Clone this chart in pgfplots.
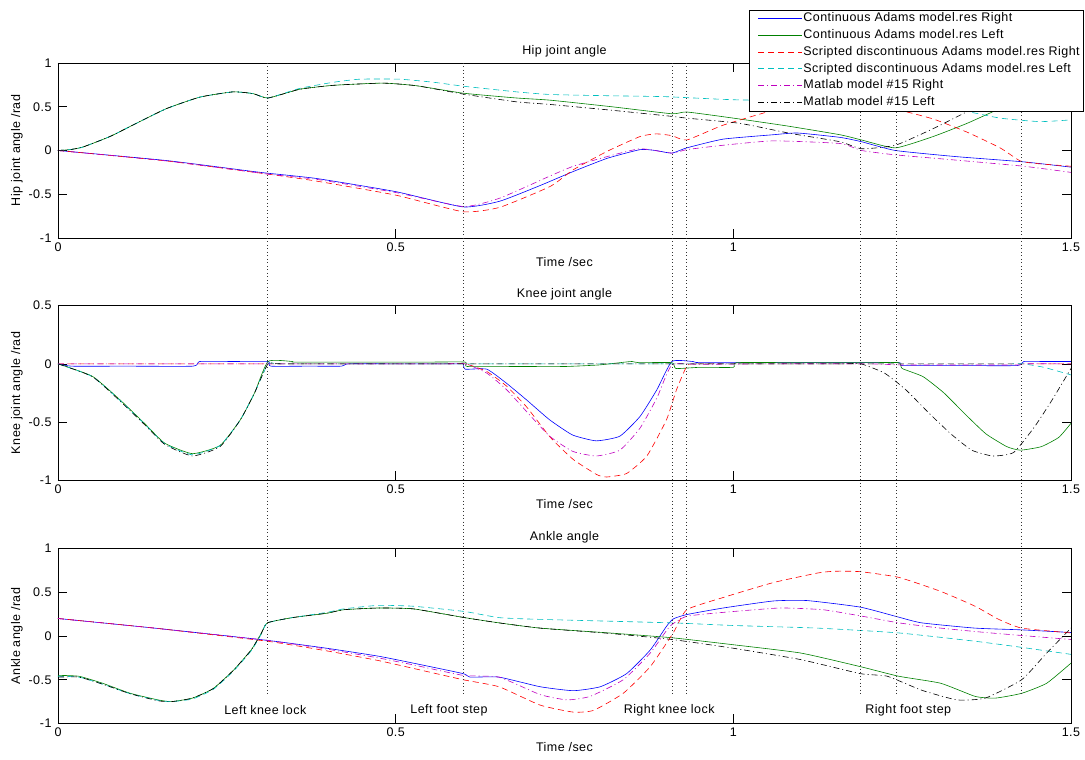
\documentclass[border=0pt]{standalone}
\usepackage{fontspec}
\setmainfont{Liberation Sans}[LetterSpace=3.5]
\usepackage{pgfplots}
\pgfplotsset{compat=1.18}
\newcommand{\myfont}{\fontsize{12.5}{14.5}\selectfont}
\definecolor{mblue}{rgb}{0,0,1}
\definecolor{mgreen}{rgb}{0,0.5,0}
\definecolor{mred}{rgb}{1,0,0}
\definecolor{mcyan}{rgb}{0,0.75,0.75}
\definecolor{mmag}{rgb}{0.75,0,0.75}
\tikzset{evline/.style={black!80, dash pattern=on 1pt off 2.5pt, line width=0.6pt}}
\pgfplotsset{
  sB/.style={color=mblue, solid, line width=0.6pt},
  sG/.style={color=mgreen, solid, line width=0.6pt},
  sR/.style={color=mred, dash pattern=on 6pt off 4pt, line width=0.6pt},
  sC/.style={color=mcyan, dash pattern=on 6pt off 4pt, line width=0.6pt},
  sM/.style={color=mmag, dash pattern=on 6pt off 3pt on 1pt off 3pt, line width=0.6pt},
  sK/.style={color=black, dash pattern=on 6pt off 3pt on 1pt off 3pt, line width=0.6pt},
  myaxis/.style={
    scale only axis, width=1013pt, height=175pt,
    xmin=0, xmax=1.5, xtick={0,0.5,1,1.5},
    tick align=inside, major tick length=9pt,
    tick style={black, line width=0.6pt},
    axis line style={black, line width=0.6pt},
    every tick label/.append style={font=\myfont},
    xticklabel style={yshift=-1pt},
    yticklabel style={xshift=-3pt},
    /pgf/number format/assume math mode=true,
    xlabel={Time /sec},
    xlabel style={at={(axis description cs:0.5,-0.135)}, anchor=center, font=\myfont},
    ylabel style={at={(axis description cs:-0.0405,0.5)}, anchor=center, font=\myfont},
    title style={at={(axis description cs:0.5,1.03)}, anchor=center, font=\myfont},
    every axis plot/.append style={line join=round, mark=none, smooth, tension=0.3},
  },
  legend image code/.code={\path (0pt,0pt); \draw[#1, sharp plot] (6pt,0pt) -- (50pt,0pt);},
}
\begin{document}
\begin{tikzpicture}
\useasboundingbox (0,0) rectangle (1085pt,760pt);
% ---------------- Ankle ----------------
\begin{axis}[myaxis, at={(58pt,36.5pt)}, anchor=south west,
  ymin=-1, ymax=1, ytick={-1,-0.5,0,0.5,1},
  title={Ankle angle}, ylabel={Ankle angle /rad}]
\addplot[sB] coordinates {(0,0.2) (0.143,0.09) (0.31,-0.05) (0.398,-0.14) (0.474,-0.23) (0.526,-0.31) (0.6,-0.43) (0.61,-0.47) (0.653,-0.47) (0.714,-0.58) (0.763,-0.625) (0.803,-0.58) (0.842,-0.43) (0.877,-0.16) (0.901,0.11) (0.911,0.195) (0.931,0.245) (0.985,0.32) (1.059,0.40) (1.109,0.405) (1.188,0.33) (1.245,0.215) (1.279,0.15) (1.358,0.09) (1.427,0.07) (1.5,0.04)};
\addplot[sG] coordinates {(0,-0.45) (0.031,-0.46) (0.066,-0.54) (0.107,-0.655) (0.148,-0.73) (0.168,-0.75) (0.199,-0.71) (0.230,-0.60) (0.260,-0.39) (0.286,-0.16) (0.301,0.03) (0.31,0.15) (0.347,0.21) (0.398,0.26) (0.423,0.30) (0.474,0.32) (0.526,0.31) (0.602,0.21) (0.653,0.15) (0.714,0.09) (0.816,0.035) (0.909,-0.02) (1.0,-0.10) (1.1,-0.195) (1.188,-0.35) (1.245,-0.46) (1.307,-0.54) (1.358,-0.69) (1.388,-0.71) (1.427,-0.655) (1.464,-0.54) (1.5,-0.31)};
\addplot[sR] coordinates {(0,0.2) (0.143,0.09) (0.31,-0.06) (0.398,-0.17) (0.474,-0.28) (0.526,-0.37) (0.6,-0.50) (0.653,-0.58) (0.714,-0.79) (0.763,-0.87) (0.793,-0.85) (0.837,-0.655) (0.877,-0.35) (0.911,0.035) (0.931,0.30) (0.985,0.44) (1.059,0.61) (1.125,0.72) (1.15,0.74) (1.188,0.735) (1.245,0.67) (1.307,0.51) (1.358,0.34) (1.393,0.19) (1.427,0.09) (1.5,0.035)};
\addplot[sC] coordinates {(0,-0.46) (0.031,-0.47) (0.066,-0.55) (0.107,-0.66) (0.148,-0.735) (0.168,-0.75) (0.199,-0.72) (0.230,-0.61) (0.260,-0.40) (0.286,-0.17) (0.301,0.02) (0.31,0.15) (0.347,0.21) (0.398,0.27) (0.423,0.31) (0.474,0.35) (0.526,0.34) (0.602,0.28) (0.653,0.21) (0.714,0.19) (0.909,0.15) (1.0,0.12) (1.125,0.09) (1.245,0.035) (1.358,-0.06) (1.427,-0.13) (1.5,-0.21)};
\addplot[sM] coordinates {(0,0.2) (0.143,0.09) (0.31,-0.05) (0.398,-0.15) (0.474,-0.25) (0.526,-0.33) (0.6,-0.45) (0.653,-0.47) (0.714,-0.67) (0.754,-0.73) (0.788,-0.69) (0.837,-0.50) (0.877,-0.195) (0.906,0.11) (0.931,0.225) (0.985,0.27) (1.069,0.32) (1.133,0.30) (1.188,0.23) (1.245,0.15) (1.307,0.09) (1.381,0.035) (1.5,-0.04)};
\addplot[sK] coordinates {(0,-0.47) (0.031,-0.47) (0.066,-0.55) (0.107,-0.66) (0.148,-0.74) (0.168,-0.75) (0.199,-0.71) (0.230,-0.60) (0.260,-0.39) (0.286,-0.16) (0.301,0.03) (0.31,0.15) (0.347,0.21) (0.398,0.26) (0.423,0.30) (0.474,0.32) (0.526,0.31) (0.602,0.21) (0.653,0.15) (0.714,0.09) (0.816,0.03) (0.909,-0.04) (1.0,-0.14) (1.1,-0.27) (1.188,-0.43) (1.228,-0.46) (1.279,-0.62) (1.331,-0.73) (1.373,-0.71) (1.427,-0.50) (1.464,-0.195) (1.5,0.09)};
\node[font=\myfont] at (axis cs:0.307,-0.85) {Left knee lock};
\node[font=\myfont] at (axis cs:0.579,-0.85) {Left foot step};
\node[font=\myfont] at (axis cs:0.905,-0.85) {Right knee lock};
\node[font=\myfont] at (axis cs:1.259,-0.85) {Right foot step};
\end{axis}
% ---------------- Knee ----------------
\begin{axis}[myaxis, at={(58pt,279.5pt)}, anchor=south west,
  ymin=-1, ymax=0.5, ytick={-1,-0.5,0,0.5},
  title={Knee joint angle}, ylabel={Knee joint angle /rad}]
\addplot[sB] coordinates {(0,0) (0.02,-0.02) (0.1,-0.02) (0.2,-0.02) (0.21,0.02) (0.26,0.02) (0.311,0.02) (0.315,-0.02) (0.37,-0.02) (0.42,-0.02) (0.43,0.0) (0.5,0.0) (0.59,0.0) (0.6,0.0) (0.603,-0.046) (0.635,-0.046) (0.664,-0.166) (0.694,-0.31) (0.728,-0.48) (0.762,-0.61) (0.797,-0.66) (0.832,-0.62) (0.862,-0.45) (0.887,-0.22) (0.909,0.02) (0.94,0.02) (0.95,0.01) (1.05,0.01) (1.15,0.01) (1.245,0.01) (1.25,-0.015) (1.33,-0.015) (1.42,-0.015) (1.43,0.02) (1.46,0.02) (1.5,0.02)};
\addplot[sG] coordinates {(0,0) (0.051,-0.107) (0.092,-0.31) (0.128,-0.51) (0.158,-0.68) (0.199,-0.77) (0.240,-0.70) (0.270,-0.48) (0.291,-0.25) (0.311,0.02) (0.347,0.02) (0.35,0.015) (0.45,0.015) (0.55,0.015) (0.603,0.015) (0.606,-0.023) (0.68,-0.023) (0.75,-0.023) (0.8,-0.01) (0.84,0.015) (0.85,0.02) (0.86,0.01) (0.909,0.01) (0.915,-0.04) (0.95,-0.03) (1.0,-0.03) (1.005,0.01) (1.1,0.01) (1.2,0.01) (1.245,0.01) (1.25,-0.04) (1.281,-0.11) (1.312,-0.25) (1.343,-0.43) (1.374,-0.60) (1.405,-0.71) (1.425,-0.74) (1.456,-0.71) (1.482,-0.63) (1.5,-0.51)};
\addplot[sR] coordinates {(0,0) (0.2,0) (0.4,0) (0.57,0) (0.603,0) (0.635,-0.066) (0.664,-0.19) (0.694,-0.37) (0.729,-0.63) (0.763,-0.82) (0.798,-0.95) (0.8125,-0.97) (0.842,-0.94) (0.872,-0.79) (0.901,-0.48) (0.916,-0.22) (0.931,-0.02) (0.94,0) (1.0,0) (1.2,0) (1.4,0) (1.5,0)};
\addplot[sC] coordinates {(0,0) (0.051,-0.11) (0.092,-0.315) (0.128,-0.515) (0.158,-0.685) (0.199,-0.78) (0.240,-0.70) (0.270,-0.48) (0.291,-0.25) (0.311,0) (0.33,0) (0.5,0) (0.8,0) (1.1,0) (1.35,0) (1.41,0) (1.429,0) (1.46,-0.03) (1.5,-0.095)};
\addplot[sM] coordinates {(0,0) (0.2,0) (0.4,0) (0.57,0) (0.603,0) (0.635,-0.08) (0.664,-0.22) (0.694,-0.41) (0.728,-0.62) (0.762,-0.75) (0.797,-0.79) (0.832,-0.74) (0.862,-0.55) (0.887,-0.29) (0.909,-0.01) (0.95,-0.005) (1.05,0) (1.2,0) (1.25,-0.01) (1.33,-0.01) (1.42,-0.01) (1.43,0) (1.5,0)};
\addplot[sK] coordinates {(0,0) (0.051,-0.11) (0.092,-0.32) (0.128,-0.52) (0.158,-0.69) (0.199,-0.79) (0.240,-0.71) (0.270,-0.48) (0.291,-0.25) (0.311,0) (0.33,0) (0.5,0) (0.8,0) (1.05,0) (1.16,0) (1.189,0) (1.224,-0.08) (1.255,-0.22) (1.291,-0.43) (1.322,-0.60) (1.353,-0.74) (1.384,-0.79) (1.415,-0.76) (1.446,-0.54) (1.472,-0.31) (1.5,-0.04)};
\end{axis}
% ---------------- Hip ----------------
\begin{axis}[myaxis, at={(58pt,522pt)}, anchor=south west,
  ymin=-1, ymax=1, ytick={-1,-0.5,0,0.5,1}, clip=false,
  title={Hip joint angle}, ylabel={Hip joint angle /rad},
  legend style={at={(rel axis cs:1.0128,1.305)}, anchor=north east,
    draw=black, line width=0.6pt, fill=white, font=\myfont,
    legend cell align=left, inner xsep=3pt, inner ysep=2pt, row sep=3.2pt,
    nodes={inner sep=1pt, text height=9pt, text depth=2.5pt}}]
\addplot[sB] coordinates {(0,0) (0.161,-0.115) (0.284,-0.235) (0.311,-0.26) (0.383,-0.32) (0.5,-0.47) (0.6,-0.645) (0.654,-0.58) (0.714,-0.40) (0.763,-0.24) (0.813,-0.09) (0.862,0.01) (0.885,0.0) (0.909,-0.03) (0.931,0.03) (0.985,0.13) (1.059,0.18) (1.095,0.20) (1.158,0.15) (1.19,0.10) (1.24,0.0) (1.33,-0.07) (1.43,-0.13) (1.5,-0.19)};
\addlegendentry{Continuous Adams model.res Right}
\addplot[sG] coordinates {(0,0) (0.018,0.01) (0.037,0.04) (0.077,0.16) (0.121,0.33) (0.161,0.48) (0.21,0.61) (0.259,0.67) (0.289,0.65) (0.311,0.60) (0.358,0.70) (0.408,0.745) (0.481,0.77) (0.531,0.74) (0.6,0.655) (0.679,0.60) (0.729,0.575) (0.82,0.5) (0.909,0.42) (0.931,0.44) (1.0,0.37) (1.08,0.28) (1.158,0.18) (1.19,0.12) (1.24,0.03) (1.296,0.16) (1.346,0.31) (1.395,0.48) (1.45,0.66) (1.5,0.83)};
\addlegendentry{Continuous Adams model.res Left}
\addplot[sR] coordinates {(0,0) (0.161,-0.12) (0.311,-0.27) (0.383,-0.35) (0.5,-0.51) (0.6,-0.70) (0.654,-0.65) (0.729,-0.41) (0.763,-0.22) (0.813,-0.01) (0.862,0.16) (0.886,0.19) (0.909,0.17) (0.931,0.12) (0.985,0.29) (1.059,0.46) (1.1,0.54) (1.15,0.58) (1.2,0.54) (1.247,0.46) (1.296,0.36) (1.346,0.21) (1.395,0.03) (1.425,-0.12) (1.45,-0.15) (1.5,-0.18)};
\addlegendentry{Scripted discontinuous Adams model.res Right}
\addplot[sC] coordinates {(0,0) (0.018,0.01) (0.037,0.04) (0.077,0.16) (0.121,0.33) (0.161,0.48) (0.21,0.61) (0.259,0.67) (0.289,0.65) (0.311,0.60) (0.358,0.71) (0.408,0.78) (0.447,0.815) (0.506,0.815) (0.556,0.78) (0.6,0.735) (0.679,0.67) (0.729,0.64) (0.82,0.625) (0.9,0.615) (1.0,0.58) (1.15,0.56) (1.25,0.53) (1.336,0.46) (1.395,0.37) (1.454,0.33) (1.5,0.35)};
\addlegendentry{Scripted discontinuous Adams model.res Left}
\addplot[sM] coordinates {(0,0) (0.161,-0.12) (0.311,-0.27) (0.383,-0.33) (0.5,-0.48) (0.6,-0.64) (0.654,-0.545) (0.729,-0.29) (0.763,-0.18) (0.813,-0.07) (0.862,0.02) (0.909,-0.03) (0.931,0.01) (0.985,0.06) (1.059,0.11) (1.158,0.08) (1.19,0.0) (1.24,-0.05) (1.33,-0.11) (1.43,-0.18) (1.5,-0.25)};
\addlegendentry{Matlab model \#15 Right}
\addplot[sK] coordinates {(0,0) (0.018,0.01) (0.037,0.04) (0.077,0.16) (0.121,0.33) (0.161,0.48) (0.21,0.61) (0.259,0.67) (0.289,0.65) (0.311,0.60) (0.358,0.70) (0.408,0.745) (0.481,0.77) (0.531,0.74) (0.6,0.645) (0.679,0.556) (0.729,0.526) (0.82,0.46) (0.909,0.39) (0.931,0.37) (1.01,0.31) (1.084,0.196) (1.158,0.10) (1.19,0.02) (1.24,0.06) (1.296,0.25) (1.34,0.42) (1.4,0.65) (1.47,0.95)};
\addlegendentry{Matlab model \#15 Left}
\draw[evline] (axis cs:0.31,1) -- (axis cs:0.31,-6.24);
\draw[evline] (axis cs:0.60,1) -- (axis cs:0.60,-6.24);
\draw[evline] (axis cs:0.909,1) -- (axis cs:0.909,-6.24);
\draw[evline] (axis cs:0.931,1) -- (axis cs:0.931,-6.24);
\draw[evline] (axis cs:1.188,1) -- (axis cs:1.188,-6.24);
\draw[evline] (axis cs:1.242,1) -- (axis cs:1.242,-6.24);
\draw[evline] (axis cs:1.427,1) -- (axis cs:1.427,-6.24);
\end{axis}
\end{tikzpicture}
\end{document}
